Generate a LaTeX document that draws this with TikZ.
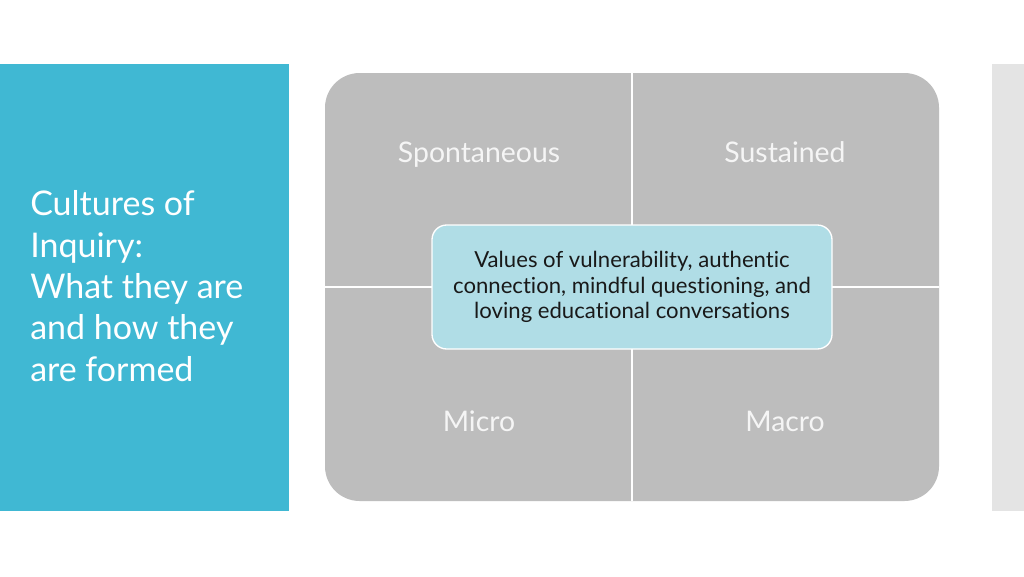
\documentclass[tikz,border=0pt]{standalone}
\usepackage{fontspec}
\setmainfont{Lato}[Ligatures={NoCommon}]
\usetikzlibrary{positioning}

\definecolor{sideblue}{RGB}{64,184,211}
\definecolor{quadgray}{RGB}{189,189,189}
\definecolor{barright}{RGB}{228,228,228}
\definecolor{centerfill}{RGB}{176,221,230}
\definecolor{labelwhite}{RGB}{245,245,245}
\definecolor{centertext}{RGB}{25,25,25}

\tikzset{
  quadlabel/.style={text=labelwhite, inner sep=0pt, anchor=base,
    font=\fontsize{21.3}{25}\selectfont},
  centerbox/.style={draw=white, line width=1pt, fill=centerfill,
    rounded corners=11pt, minimum width=300pt, minimum height=93pt,
    align=center, text=centertext, inner sep=0pt,
    font=\fontsize{16.6}{19.2}\selectfont},
  titletext/.style={text=white, align=left, inner sep=0pt,
    font=\fontsize{25.5}{31}\selectfont}
}

\begin{document}
\begin{tikzpicture}[x=0.75pt, y=-0.75pt]
  % page
  \useasboundingbox[fill=white] (0,0) rectangle (1024,576);

  % left title panel
  \fill[sideblue] (0,64) rectangle (289,511);
  \node[titletext, anchor=base west] (title) at (30,381)
    {Cultures of\\Inquiry:\\What they are\\and how they\\are formed};

  % right grey strip
  \fill[barright] (992,64) rectangle (1024,511);

  % quadrant grid
  \fill[quadgray, rounded corners=26pt] (325,73) rectangle (939,501);
  \draw[white, line width=1.2pt] (632,73) -- (632,501);
  \draw[white, line width=1.2pt] (325,287) -- (939,287);

  % quadrant labels
  \node[quadlabel] (spont) at (479,162) {Spontaneous};
  \node[quadlabel] (sust) at (785,162) {Sustained};
  \node[quadlabel] (micro) at (479,431) {Micro};
  \node[quadlabel] (macro) at (785,431) {Macro};

  % centre values box
  \node[centerbox] (values) at (632,287)
    {Values of vulnerability, authentic\\connection, mindful questioning, and\\loving educational conversations};
\end{tikzpicture}
\end{document}
